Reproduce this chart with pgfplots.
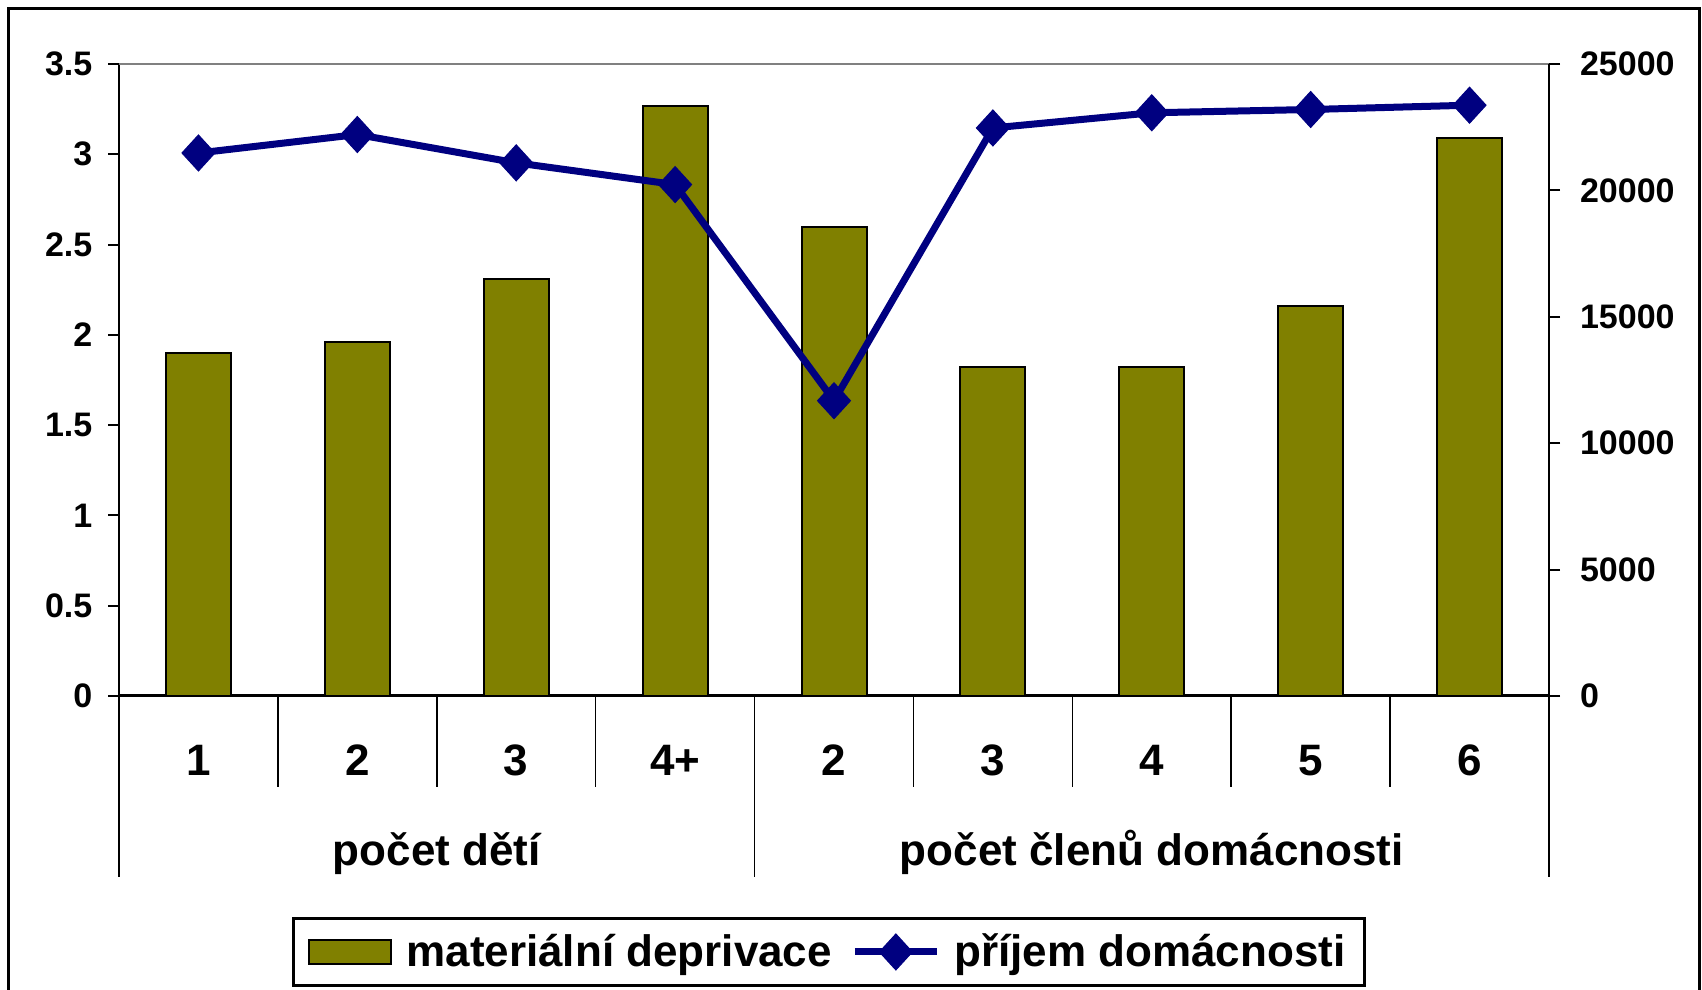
\documentclass[border=0pt]{standalone}
\usepackage{fontspec}
\setmainfont{Liberation Sans}
\usepackage{pgfplots}
\pgfplotsset{compat=1.18}
\definecolor{navyline}{RGB}{0,0,128}
\definecolor{olivebar}{RGB}{128,128,0}
\pgfplotsset{mylegline/.style={legend image code/.code={\draw[mark repeat=2,mark phase=2,##1] plot coordinates {(0pt,0pt) (20.5pt,0pt) (41pt,0pt)};}}}
\begin{document}
\begin{tikzpicture}
\useasboundingbox (0,0) rectangle (851pt,495pt);
\draw[line width=1.5pt] (4.35pt,-5pt) -- (4.35pt,490.65pt) -- (849.5pt,490.65pt) -- (849.5pt,-5pt);
\begin{axis}[
  at={(59.5pt,147pt)}, anchor=south west,
  width=715pt, height=316pt, scale only axis,
  xmin=-0.5, xmax=8.5, ymin=0, ymax=3.5,
  axis x line*=bottom, axis y line*=left,
  x axis line style={-, line width=1.5pt},
  y axis line style={-, line width=1pt},
  xtick={0,...,8},
  xticklabels={1,2,3,4+,2,3,4,5,6},
  xtick style={draw=none},
  ytick={0,0.5,1,1.5,2,2.5,3,3.5},
  ytick style={line width=1pt, black},
  tick align=outside,
  major tick length=5.5pt,
  /pgf/number format/assume math mode=true,
  yticklabel={\pgfmathprintnumber{\tick}},
  yticklabel style={font=\bfseries\fontsize{17}{19}\selectfont, xshift=-4.3pt},
  xticklabel style={font=\bfseries\fontsize{22}{26}\selectfont, anchor=base, yshift=-34.5pt},
  clip=false,
  ybar, bar width=32.5pt,
]
\addplot[fill=olivebar, draw=black, line width=1pt] coordinates {(0,1.90) (1,1.96) (2,2.31) (3,3.27) (4,2.60) (5,1.82) (6,1.82) (7,2.16) (8,3.09)};
\draw[gray, line width=1pt] (rel axis cs:0,1) -- (rel axis cs:1,1);
\draw[line width=0.8pt] (axis cs:0.5,0) -- ([yshift=-45.6pt]axis cs:0.5,0);
\draw[line width=0.8pt] (axis cs:1.5,0) -- ([yshift=-45.6pt]axis cs:1.5,0);
\draw[line width=0.8pt] (axis cs:2.5,0) -- ([yshift=-45.6pt]axis cs:2.5,0);
\draw[line width=0.8pt] (axis cs:4.5,0) -- ([yshift=-45.6pt]axis cs:4.5,0);
\draw[line width=0.8pt] (axis cs:5.5,0) -- ([yshift=-45.6pt]axis cs:5.5,0);
\draw[line width=0.8pt] (axis cs:6.5,0) -- ([yshift=-45.6pt]axis cs:6.5,0);
\draw[line width=0.8pt] (axis cs:7.5,0) -- ([yshift=-45.6pt]axis cs:7.5,0);
\draw[line width=0.8pt] (axis cs:-0.5,0) -- ([yshift=-90.7pt]axis cs:-0.5,0);
\draw[line width=0.8pt] (axis cs:3.5,0) -- ([yshift=-90.7pt]axis cs:3.5,0);
\draw[line width=0.8pt] (axis cs:8.5,0) -- ([yshift=-90.7pt]axis cs:8.5,0);
\node[font=\bfseries\fontsize{22}{26}\selectfont, anchor=base] at ([yshift=-84.5pt]axis cs:1.5,0) {počet dětí};
\node[font=\bfseries\fontsize{22}{26}\selectfont, anchor=base] at ([yshift=-84.5pt]axis cs:6,0) {počet členů domácnosti};
\end{axis}
\begin{axis}[
  at={(59.5pt,147pt)}, anchor=south west,
  width=715pt, height=316pt, scale only axis,
  xmin=-0.5, xmax=8.5, ymin=0, ymax=25000,
  axis x line=none, axis y line*=right,
  y axis line style={-, line width=1pt},
  ytick={0,5000,10000,15000,20000,25000},
  tick align=outside, major tick length=5.5pt,
  ytick style={line width=1pt, black},
  scaled y ticks=false,
  /pgf/number format/assume math mode=true,
  /pgf/number format/1000 sep={},
  yticklabel={\pgfmathprintnumber{\tick}},
  yticklabel style={font=\bfseries\fontsize{17}{19}\selectfont, xshift=6.5pt},
  clip=false,
  legend columns=2,
  legend style={at={(0.4965,-0.405)}, anchor=center, draw=black, line width=1.5pt,
    font=\bfseries\fontsize{22}{26}\selectfont, inner xsep=7.5pt, inner ysep=5.8pt,
    /tikz/every odd column/.append style={column sep=5pt},
    /tikz/every even column/.append style={column sep=7.7pt}},
]
\addlegendimage{legend image code/.code={\draw[draw=black,fill=olivebar,line width=1pt] (0pt,-6pt) rectangle (41pt,6pt);}}
\addlegendentry{materiální deprivace}
\addplot[navyline, line width=3.5pt, mark=diamond*, mark size=9pt, mark options={xscale=1.22, line width=0.5pt, solid}, mylegline]
  coordinates {(0,21480) (1,22210) (2,21090) (3,20230) (4,11680) (5,22470) (6,23070) (7,23200) (8,23370)};
\addlegendentry{příjem domácnosti}
\end{axis}
\end{tikzpicture}
\end{document}
